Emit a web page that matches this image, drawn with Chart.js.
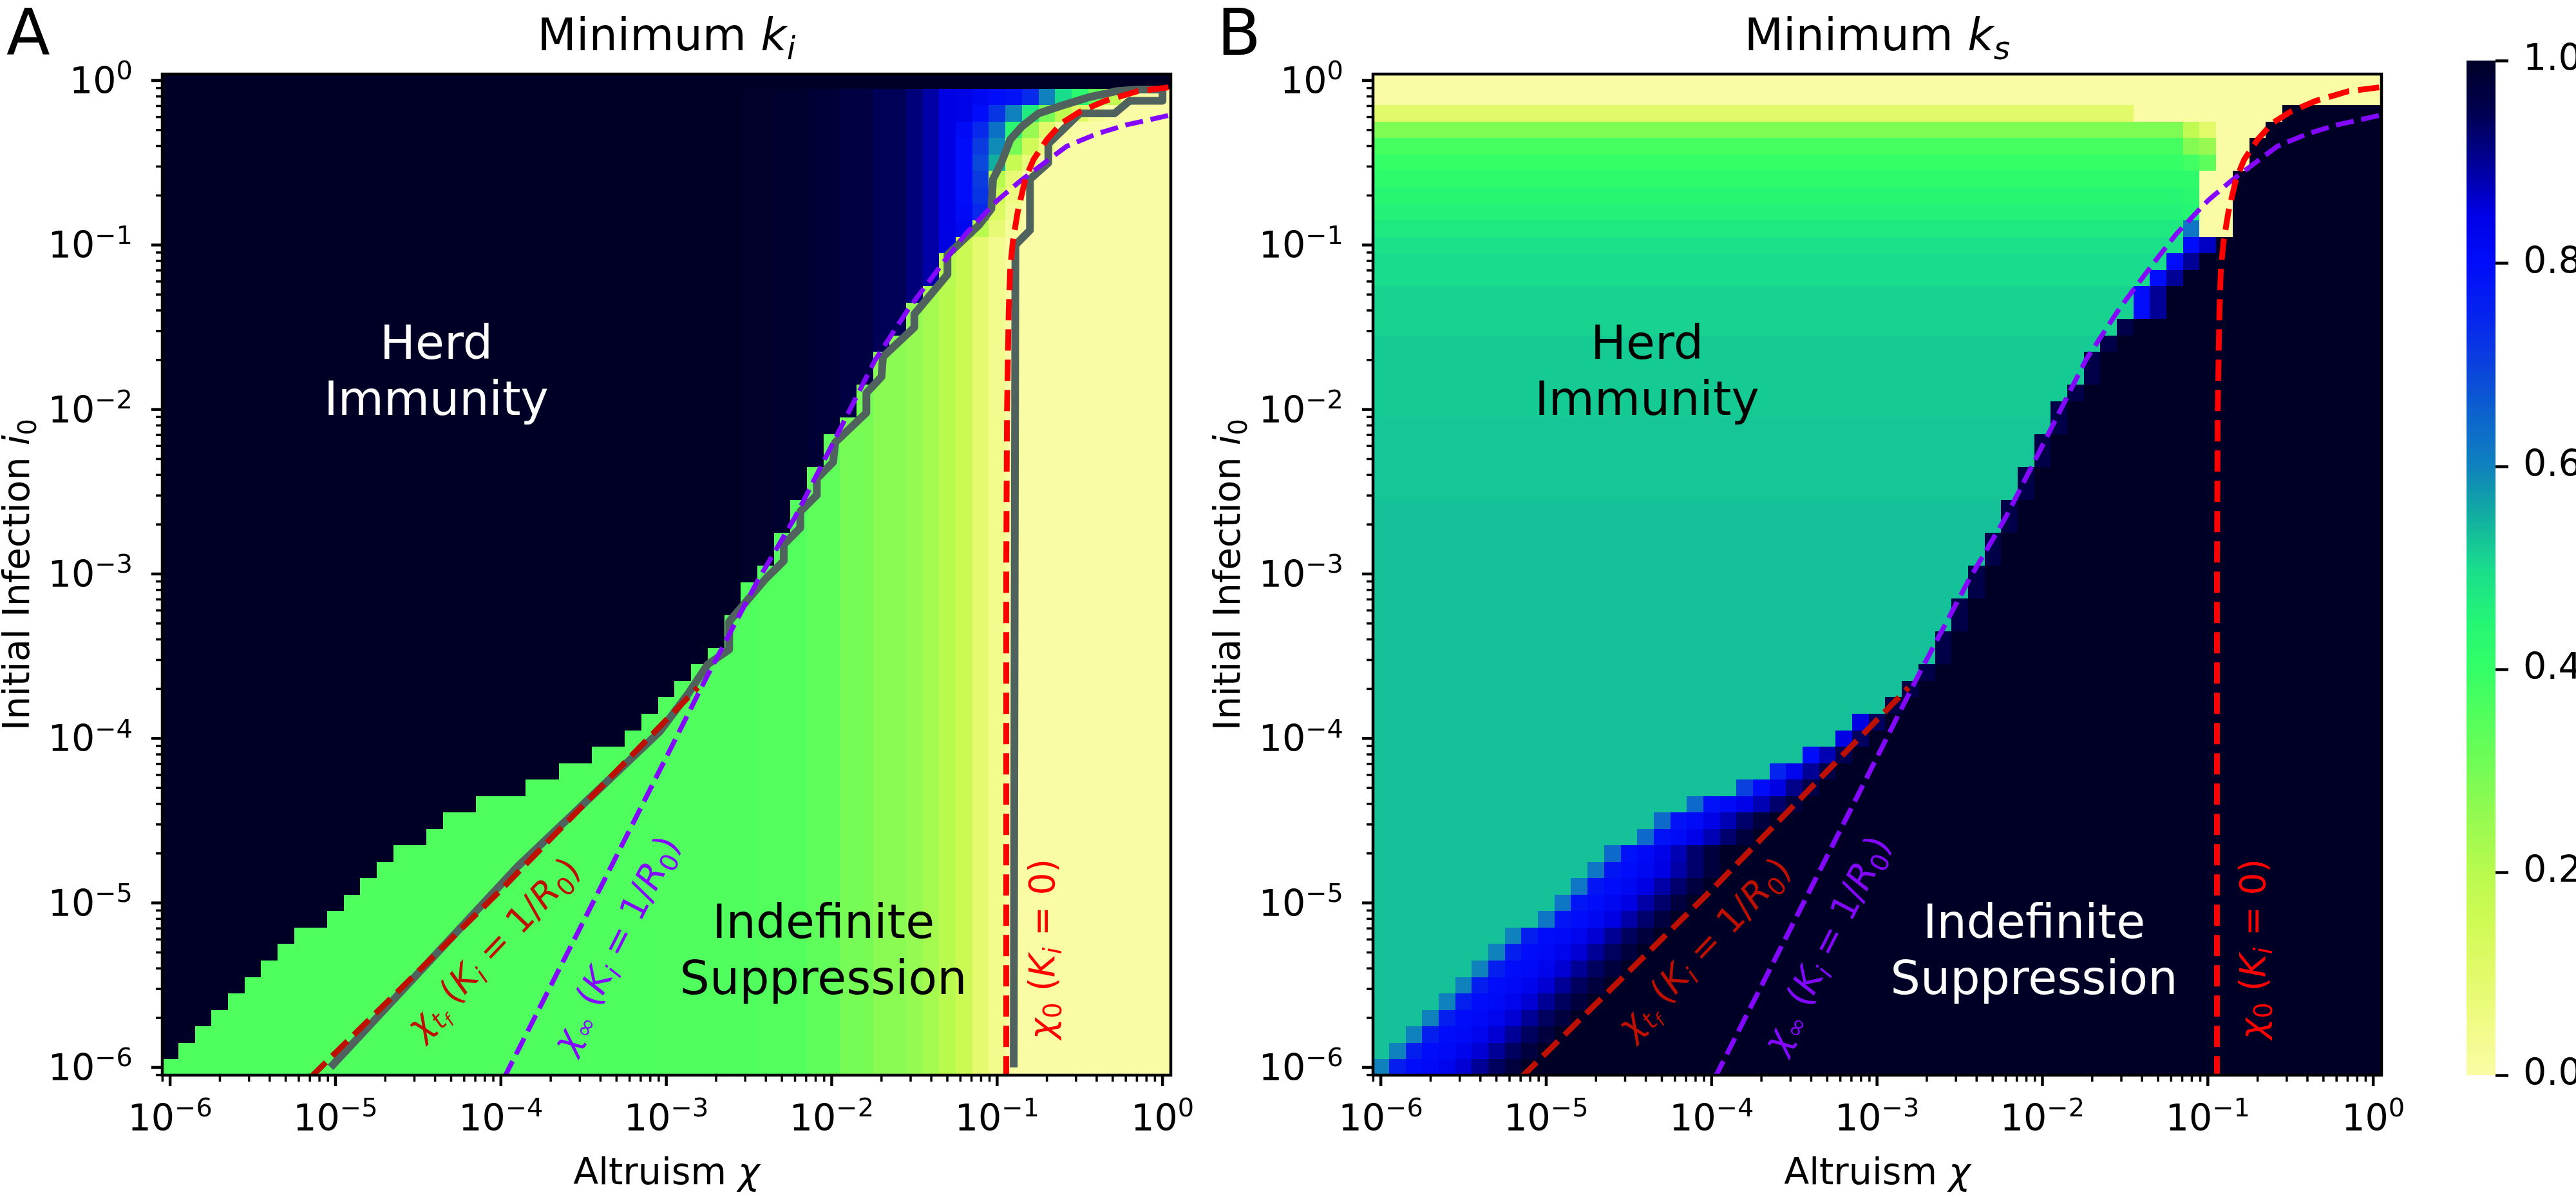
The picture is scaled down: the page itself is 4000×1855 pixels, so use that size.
<!DOCTYPE html>
<html>
<head>
<meta charset="utf-8">
<script src="https://cdn.jsdelivr.net/npm/chart.js@4.4.1/dist/chart.umd.min.js"></script>
<style>
  html, body { margin: 0; background: #fff; }
  body { position: relative; width: 4000px; height: 1855px; overflow: hidden; }
  canvas { position: absolute; top: 0; }
</style>
</head>
<body>
<canvas id="panelA" width="1950" height="1855" style="left:0px"></canvas>
<canvas id="panelB" width="1970" height="1855" style="left:1860px"></canvas>
<canvas id="cbar" width="240" height="1855" style="left:3760px"></canvas>
<script>
// ── Grid: log10 of the cell centres (same on both axes) ─────────────────────
const gridExp = [-6.0, -5.9, -5.8, -5.7, -5.6, -5.5, -5.4, -5.3, -5.2, -5.1,
                 -5.0, -4.9, -4.8, -4.7, -4.6, -4.5, -4.4, -4.3, -4.2, -4.1,
                 -4.0, -3.9, -3.8, -3.7, -3.6, -3.5, -3.4, -3.3, -3.2, -3.1,
                 -3.0, -2.9, -2.8, -2.7, -2.6, -2.5, -2.4, -2.3, -2.2, -2.1,
                 -2.0, -1.9, -1.8, -1.7, -1.6, -1.5, -1.4, -1.3, -1.2, -1.1,
                 -1.0, -0.9, -0.8, -0.7, -0.6, -0.5, -0.4, -0.3, -0.2, -0.1, 0.0];

// ── Axis ticks ────────────────────────────────────────────────────────────────
const majorExp = [-6, -5, -4, -3, -2, -1, 0];
const majorLabels = ['\u22126', '\u22125', '\u22124', '\u22123', '\u22122', '\u22121', '0'];
const minorMult = [2, 3, 4, 5, 6, 7, 8, 9];
const cbarTicks = [0, 0.2, 0.4, 0.6, 0.8, 1.0];

// ── Panel A: minimum k_i ─────────────────────────────────────────────────────
// first column of the suppression side, per row (bottom row first)
const edgeA = [0, 1, 2, 3, 4, 5, 6, 7, 8, 10,
               11, 12, 13, 14, 16, 17, 19, 22, 24, 26,
               28, 29, 30, 31, 32, 33, 34, 34, 35, 35,
               36, 37, 37, 38, 38, 39, 39, 40, 40, 41,
               42, 42, 43, 43, 44, 45, 45, 46, 47, 47,
               48, 49, 50, 50, 50, 51, 51, 51, 52, 53, 61];
// herd-immunity side, per column
const herdA = [1, 1, 1, 1, 1, 1, 1, 1, 1, 1,
               1, 1, 1, 1, 1, 1, 1, 1, 1, 1,
               1, 1, 1, 1, 1, 1, 1, 1, 1, 1,
               1, 1, 1, 1, 1, 0.995, 0.995, 0.99, 0.99, 0.98,
               0.98, 0.965, 0.965, 0.945, 0.945, 0.92, 0.89, 0.85, 0.82, 0.80,
               0.79, 0.79, 0.79, 0.79, 0.79, 0.79, 0.79, 0.79, 0.79, 0.79, 0.79];
// suppression side, per column
const suppressA = [0.36, 0.36, 0.36, 0.36, 0.36, 0.36, 0.36, 0.36, 0.36, 0.36,
                   0.36, 0.36, 0.36, 0.36, 0.36, 0.36, 0.36, 0.36, 0.36, 0.36,
                   0.36, 0.36, 0.36, 0.36, 0.36, 0.36, 0.36, 0.36, 0.36, 0.36,
                   0.358, 0.358, 0.358, 0.358, 0.358, 0.358, 0.355, 0.355, 0.355, 0.335,
                   0.335, 0.30, 0.30, 0.27, 0.27, 0.255, 0.23, 0.20, 0.16, 0.09,
                   0.04, 0, 0, 0, 0, 0, 0, 0, 0, 0, 0];
// top-right corner rows: [start column, value] runs
const topA = {
  51: [[49, 0.2], [50, 0.08], [51, 0.02], [52, 0]],
  52: [[48, 0.81], [49, 0.74], [50, 0.12], [51, 0.04], [52, 0]],
  53: [[48, 0.80], [49, 0.72], [50, 0.16], [51, 0.06], [52, 0]],
  54: [[48, 0.80], [49, 0.71], [50, 0.2], [51, 0.08], [52, 0]],
  55: [[48, 0.80], [49, 0.69], [50, 0.55], [51, 0.17], [52, 0.07], [53, 0]],
  56: [[48, 0.80], [49, 0.71], [50, 0.59], [51, 0.3], [52, 0.15], [53, 0.05], [54, 0]],
  57: [[48, 0.81], [49, 0.74], [50, 0.63], [51, 0.43], [52, 0.25], [53, 0.1], [54, 0.02], [55, 0]],
  58: [[48, 0.84], [49, 0.80], [50, 0.72], [51, 0.6], [52, 0.47], [53, 0.3], [54, 0.19], [55, 0.11], [56, 0.03], [57, 0]],
  59: [[48, 0.84], [49, 0.82], [50, 0.80], [51, 0.79], [52, 0.74], [53, 0.6], [54, 0.5], [55, 0.43], [56, 0.33], [57, 0.18], [58, 0.04], [59, 0]],
  60: [[0, 1]]
};

// ── Panel B: minimum k_s ─────────────────────────────────────────────────────
const edgeB = [0, 1, 2, 3, 4, 5, 6, 7, 8, 10,
               11, 12, 13, 14, 16, 17, 19, 22, 24, 26,
               28, 29, 31, 32, 33, 34, 34, 35, 35, 36,
               36, 37, 37, 38, 38, 39, 39, 40, 40, 41,
               41, 42, 43, 43, 44, 45, 46, 46, 47, 48,
               49, 49, 50, 50, 50, 49, 49, 49, 46, 61, 61];
// herd-immunity side, per row
const herdB = [0.53, 0.53, 0.53, 0.53, 0.53, 0.53, 0.53, 0.53, 0.53, 0.53,
               0.53, 0.53, 0.53, 0.53, 0.53, 0.53, 0.53, 0.53, 0.53, 0.53,
               0.53, 0.53, 0.53, 0.53, 0.53, 0.53, 0.53, 0.53, 0.53, 0.53,
               0.53, 0.53, 0.53, 0.53, 0.53, 0.525, 0.525, 0.525, 0.525, 0.525,
               0.52, 0.52, 0.52, 0.52, 0.52, 0.51, 0.51, 0.51, 0.50, 0.50,
               0.49, 0.475, 0.455, 0.44, 0.42, 0.40, 0.375, 0.29, 0.10, 0, 0];
// blue band just right of the herd edge
const bandProfilesB = [
  [0.6, 0.76, 0.8, 0.81, 0.83, 0.86, 0.9, 0.94, 0.97],
  [0.62, 0.78, 0.8, 0.82, 0.85, 0.89, 0.93, 0.97],
  [0.64, 0.79, 0.81, 0.84, 0.88, 0.93, 0.97],
  [0.7, 0.8, 0.85, 0.91, 0.96],
  [0.75, 0.83, 0.9, 0.96],
  [0.8, 0.88, 0.95],
  [0.85, 0.94],
  [0.96],
  [0.8, 0.9],
  [0.8, 0.87],
  []
];
const bandRowB = [0, 0, 0, 0, 0, 0, 0, 0, 0, 1,
                  1, 1, 1, 2, 2, 2, 2, 3, 4, 5,
                  6, 6, 7, 7, 7, 7, 7, 7, 7, 7,
                  7, 7, 7, 7, 7, 7, 7, 7, 7, 7,
                  7, 7, 7, 7, 7, 7, 8, 8, 8, 8,
                  9, 10, 10, 10, 10, 10, 10, 10, 10, 10, 10];
const topB = {
  51: [[0, 0.475], [49, 0.62], [50, 0], [52, 1]],
  52: [[0, 0.455], [49, 0.44], [50, 0], [52, 1]],
  53: [[0, 0.44], [49, 0.43], [50, 0], [52, 1]],
  54: [[0, 0.42], [49, 0.42], [50, 0], [52, 1]],
  55: [[0, 0.40], [49, 0.38], [50, 0.34], [51, 0], [53, 1]],
  56: [[0, 0.375], [49, 0.28], [50, 0.25], [51, 0], [53, 1]],
  57: [[0, 0.29], [49, 0.19], [50, 0.1], [51, 0], [54, 1]],
  58: [[0, 0.10], [46, 0], [55, 1]],
  59: [[0, 0]],
  60: [[0, 0]]
};

// ── Boundary curves (altruism chi, initial infection i0) ────────────────────
const greyChi = [9.33e-6, 1.26e-4, 9.12e-4, 1.35e-3, 1.78e-3, 2.40e-3, 2.40e-3, 3.98e-3, 5.13e-3, 5.13e-3,
                 6.46e-3, 6.46e-3, 8.13e-3, 8.13e-3, 1.02e-2, 1.05e-2, 1.62e-2, 1.62e-2, 2.00e-2, 2.04e-2,
                 3.16e-2, 3.16e-2, 5.01e-2, 5.01e-2, 7.76e-2, 9.23e-2, 9.44e-2, 0.106, 0.120, 0.141,
                 0.178, 0.251, 0.363, 0.525, 0.708, 1.0, 1.0, 0.631, 0.513, 0.316,
                 0.204, 0.204, 0.158, 0.158, 0.129, 0.126];
const greyI0 = [1.0e-6, 1.66e-5, 1.10e-4, 1.86e-4, 2.82e-4, 3.47e-4, 5.13e-4, 9.33e-4, 1.20e-3, 1.51e-3,
                1.91e-3, 2.40e-3, 3.02e-3, 3.80e-3, 4.79e-3, 6.31e-3, 9.55e-3, 1.26e-2, 1.58e-2, 2.09e-2,
                3.16e-2, 3.80e-2, 6.61e-2, 8.71e-2, 0.132, 0.166, 0.251, 0.316, 0.437, 0.525,
                0.631, 0.708, 0.794, 0.861, 0.881, 0.881, 0.752, 0.752, 0.631, 0.631,
                0.412, 0.316, 0.251, 0.123, 0.100, 1.0e-6];
const tfChi = [7.08e-6, 1.0e-4, 1.55e-3];
const tfI0 = [8.71e-7, 1.20e-5, 2.04e-4];
const infChi = [1.05e-4, 4.27e-4, 1.78e-3, 3.59e-3, 5.97e-3, 1.0e-2, 1.83e-2, 2.95e-2, 4.78e-2, 6.46e-2,
                0.100, 0.138, 0.182, 0.263, 0.398, 0.603, 1.12];
const infI0 = [8.71e-7, 1.41e-5, 2.43e-4, 9.20e-4, 2.19e-3, 6.03e-3, 2.0e-2, 4.17e-2, 7.94e-2, 0.117,
               0.186, 0.245, 0.302, 0.398, 0.473, 0.537, 0.617];
const zeroChi = [0.1135, 0.1135, 0.1148, 0.1175, 0.120, 0.1245, 0.133, 0.148, 0.166, 0.200,
                 0.245, 0.316, 0.447, 0.708, 1.12];
const zeroI0 = [8.71e-7, 1.0e-3, 1.0e-2, 3.98e-2, 7.24e-2, 0.105, 0.158, 0.251, 0.331, 0.437,
                0.550, 0.646, 0.750, 0.861, 0.912];

// ── Annotation anchors (chi, i0) ─────────────────────────────────────────────
const noteChi = [4.07e-5, 8.9e-3, 8.91e-5, 4.9e-4, 0.186];
const noteI0 = [1.74e-2, 5.25e-6, 5.37e-6, 5.62e-6, 5.25e-6];

// ── Style ─────────────────────────────────────────────────────────────────────
const FONT = '"DejaVu Sans", sans-serif';
const X_MIN = 8.97e-7, X_MAX = 1.122, Y_MIN = 8.97e-7, Y_MAX = 1.094;
const CELL_HALF = 0.05;
const cmapVals = [0, 0.05, 0.1, 0.15, 0.2, 0.25, 0.3, 0.35, 0.4, 0.45, 0.5,
                  0.55, 0.6, 0.65, 0.7, 0.75, 0.8, 0.85, 0.9, 0.95, 1];
const cmapRGB = [[250, 252, 165], [240, 251, 135], [226, 250, 105], [208, 250, 85], [185, 250, 78],
                 [152, 250, 80], [118, 252, 85], [85, 255, 92], [52, 255, 102], [35, 245, 118],
                 [25, 220, 140], [18, 175, 160], [15, 130, 190], [12, 100, 205], [10, 65, 222],
                 [5, 35, 238], [0, 12, 250], [0, 0, 228], [0, 0, 150], [0, 0, 80], [0, 0, 38]];

function cmap(v) {
    v = Math.max(0, Math.min(1, v));
    let k = 0;
    while (k < cmapVals.length - 2 && v > cmapVals[k + 1]) k++;
    const t = (v - cmapVals[k]) / (cmapVals[k + 1] - cmapVals[k]);
    const a = cmapRGB[k], b = cmapRGB[k + 1];
    return `rgb(${Math.round(a[0] + (b[0] - a[0]) * t)},${Math.round(a[1] + (b[1] - a[1]) * t)},${Math.round(a[2] + (b[2] - a[2]) * t)})`;
}

function applyRuns(row, runs) {
    if (!runs) return;
    runs.forEach(([start, v], k) => {
        const end = k + 1 < runs.length ? runs[k + 1][0] : row.length;
        for (let c = start; c < end; c++) row[c] = v;
    });
}

function buildGridA() {
    return gridExp.map((_, r) => {
        const row = gridExp.map((__, c) => c < edgeA[r] ? herdA[c] : suppressA[c]);
        applyRuns(row, topA[r]);
        return row;
    });
}

function buildGridB() {
    return gridExp.map((_, r) => {
        const band = bandProfilesB[bandRowB[r]];
        const row = gridExp.map((__, c) => {
            if (c < edgeB[r]) return herdB[r];
            const k = c - edgeB[r];
            return k < band.length ? band[k] : 1;
        });
        applyRuns(row, topB[r]);
        return row;
    });
}

// ── Rich text (mathtext-like runs) ───────────────────────────────────────────
// [scale, baseline shift in em (down +), font style]
const RUN = {
    n: [1, 0, ''], i: [1, 0, 'italic '],
    sub: [0.7, 0.2, 'italic '], subn: [0.7, 0.2, ''],
    subsub: [0.5, 0.34, 'italic '], sup: [0.7, -0.38, '']
};
function runFont(kind, size) { return `${RUN[kind][2]}${size * RUN[kind][0]}px ${FONT}`; }
function runsWidth(ctx, runs, size) {
    let w = 0;
    runs.forEach(([t, k]) => { ctx.font = runFont(k, size); w += ctx.measureText(t).width; });
    return w;
}
function rich(ctx, runs, size, color, px, py, opt = {}) {
    ctx.save();
    ctx.translate(px, py);
    if (opt.rot) ctx.rotate(opt.rot * Math.PI / 180);
    ctx.fillStyle = color;
    ctx.textAlign = 'left';
    ctx.textBaseline = 'alphabetic';
    const w = runsWidth(ctx, runs, size);
    let x = opt.align === 'right' ? -w : opt.align === 'left' ? 0 : -w / 2;
    const y = opt.dy || 0;
    runs.forEach(([t, k]) => {
        ctx.font = runFont(k, size);
        ctx.fillText(t, x, y + RUN[k][1] * size);
        x += ctx.measureText(t).width;
    });
    ctx.restore();
}

// ── Plugins ──────────────────────────────────────────────────────────────────
function heatmapPlugin(grid) {
    return {
        id: 'heatmap',
        beforeDatasetsDraw(chart) {
            const { ctx, chartArea: a, scales: { x, y } } = chart;
            ctx.save();
            ctx.beginPath();
            ctx.rect(a.left, a.top, a.right - a.left, a.bottom - a.top);
            ctx.clip();
            grid.forEach((row, r) => row.forEach((v, c) => {
                const xl = Math.round(x.getPixelForValue(Math.pow(10, gridExp[c] - CELL_HALF)));
                const xr = Math.round(x.getPixelForValue(Math.pow(10, gridExp[c] + CELL_HALF)));
                const yb = Math.round(y.getPixelForValue(Math.pow(10, gridExp[r] - CELL_HALF)));
                const yt = Math.round(y.getPixelForValue(Math.pow(10, gridExp[r] + CELL_HALF)));
                ctx.fillStyle = cmap(v);
                ctx.fillRect(xl, yt, xr - xl, yb - yt);
            }));
            ctx.restore();
        }
    };
}

function decorPlugin(cfg) {
    return {
        id: 'decor',
        afterDatasetsDraw(chart) {
            const { ctx, chartArea: a, scales: { x, y } } = chart;
            ctx.save();
            ctx.beginPath();
            ctx.rect(a.left, a.top, a.right - a.left, a.bottom - a.top);
            ctx.clip();
            cfg.notes.forEach((n, k) => {
                const px = x.getPixelForValue(noteChi[k]), py = y.getPixelForValue(noteI0[k]);
                n.lines.forEach((runs, j) => {
                    const off = (j - (n.lines.length - 1) / 2) * n.size * 1.2;
                    rich(ctx, runs, n.size, n.color, px, py, { rot: n.rot, dy: off + 0.36 * n.size });
                });
            });
            ctx.restore();
        },
        afterDraw(chart) {
            const { ctx, chartArea: a, scales: { x, y } } = chart;
            ctx.save();
            ctx.strokeStyle = '#000';
            ctx.lineCap = 'butt';
            const tickX = (v, len, lw) => {
                const px = x.getPixelForValue(v);
                ctx.lineWidth = lw; ctx.beginPath(); ctx.moveTo(px, a.bottom); ctx.lineTo(px, a.bottom + len); ctx.stroke();
            };
            const tickY = (v, len, lw) => {
                const py = y.getPixelForValue(v);
                ctx.lineWidth = lw; ctx.beginPath(); ctx.moveTo(a.left, py); ctx.lineTo(a.left - len, py); ctx.stroke();
            };
            [-7].concat(majorExp).forEach(e => minorMult.forEach(m => {
                const v = m * Math.pow(10, e);
                if (v >= X_MIN * 0.999 && v <= X_MAX) tickX(v, 10, 3.5);
                if (v >= Y_MIN * 0.999 && v <= Y_MAX) tickY(v, 10, 3.5);
            }));
            majorExp.forEach((e, k) => {
                const v = Math.pow(10, e);
                tickX(v, 17, 4.5);
                tickY(v, 17, 4.5);
                const runs = [['10', 'n'], [majorLabels[k], 'sup']];
                rich(ctx, runs, 57, '#000', x.getPixelForValue(v), a.bottom + 86, {});
                rich(ctx, runs, 57, '#000', a.left - 46, y.getPixelForValue(v) + 20, { align: 'right' });
            });
            ctx.lineWidth = 4.5;
            ctx.strokeRect(a.left, a.top, a.right - a.left, a.bottom - a.top);
            const cx = (a.left + a.right) / 2, cy = (a.top + a.bottom) / 2;
            rich(ctx, cfg.title, 70, '#000', cx, 78, {});
            rich(ctx, [['Altruism ', 'n'], ['\u03c7', 'i']], 57, '#000', cx, 1838, {});
            rich(ctx, [['Initial Infection ', 'n'], ['i', 'i'], ['0', 'subn']], 57, '#000', a.left - 207, cy, { rot: -90 });
            rich(ctx, [[cfg.letter, 'n']], 99, '#000', a.left - 242, 85, { align: 'left' });
            ctx.restore();
        }
    };
}

function colorbarPlugin() {
    return {
        id: 'colorbar',
        beforeDatasetsDraw(chart) {
            const { ctx, chartArea: a, scales: { y } } = chart;
            const steps = 400;
            for (let k = 0; k < steps; k++) {
                const y0 = Math.round(y.getPixelForValue(k / steps));
                const y1 = Math.round(y.getPixelForValue((k + 1) / steps));
                ctx.fillStyle = cmap((k + 0.5) / steps);
                ctx.fillRect(a.left, y1, a.right - a.left, y0 - y1);
            }
        }
    };
}

// ── Build charts ─────────────────────────────────────────────────────────────
const tfLabel = [['\u03c7', 'i'], ['t', 'sub'], ['f', 'subsub'], [' (', 'n'], ['K', 'i'], ['i', 'sub'],
                 [' = 1/', 'n'], ['R', 'i'], ['0', 'subn'], [')', 'n']];
const infLabel = [['\u03c7', 'i'], ['\u221e', 'subn'], [' (', 'n'], ['K', 'i'], ['i', 'sub'],
                  [' = 1/', 'n'], ['R', 'i'], ['0', 'subn'], [')', 'n']];
const zeroLabel = [['\u03c7', 'i'], ['0', 'subn'], [' (', 'n'], ['K', 'i'], ['i', 'sub'], [' = 0)', 'n']];

function curve(chi, i0, color, width, dash, order) {
    return {
        data: chi.map((v, k) => ({ x: v, y: i0[k] })),
        showLine: true, pointRadius: 0, borderColor: color, borderWidth: width,
        borderDash: dash, borderCapStyle: 'butt', borderJoinStyle: dash.length ? 'miter' : 'round',
        tension: 0, fill: false, clip: 0, order: order
    };
}

function panel(canvasId, padLeft, grid, cfg) {
    return new Chart(document.getElementById(canvasId), {
        type: 'scatter',
        data: { datasets: cfg.curves },
        options: {
            responsive: false, animation: false, devicePixelRatio: 1, events: [],
            layout: { padding: { left: padLeft, right: 132, top: 115, bottom: 186 } },
            plugins: { legend: { display: false }, tooltip: { enabled: false } },
            scales: {
                x: { type: 'logarithmic', min: X_MIN, max: X_MAX, bounds: 'data', display: false },
                y: { type: 'logarithmic', min: Y_MIN, max: Y_MAX, bounds: 'data', display: false }
            }
        },
        plugins: [heatmapPlugin(grid), decorPlugin(cfg)]
    });
}

const RED = '#ff0000', DARKRED = '#bd1000', PURPLE = '#8408ff', GREY = '#4f625e';

panel('panelA', 252, buildGridA(), {
    letter: 'A',
    title: [['Minimum ', 'n'], ['k', 'i'], ['i', 'sub']],
    curves: [
        curve(zeroChi, zeroI0, RED, 9, [33, 14], 1),
        curve(infChi, infI0, PURPLE, 7.5, [28, 12], 2),
        curve(tfChi, tfI0, DARKRED, 9, [33, 14], 3),
        curve(greyChi, greyI0, GREY, 12, [], 4)
    ],
    notes: [
        { lines: [[['Herd', 'n']], [['Immunity', 'n']]], size: 73, color: '#fff', rot: 0 },
        { lines: [[['Indefinite', 'n']], [['Suppression', 'n']]], size: 73, color: '#000', rot: 0 },
        { lines: [tfLabel], size: 55, color: DARKRED, rot: -46.5 },
        { lines: [infLabel], size: 55, color: PURPLE, rot: -63 },
        { lines: [zeroLabel], size: 55, color: RED, rot: -90 }
    ]
});

panel('panelB', 272, buildGridB(), {
    letter: 'B',
    title: [['Minimum ', 'n'], ['k', 'i'], ['s', 'sub']],
    curves: [
        curve(zeroChi, zeroI0, RED, 9, [33, 14], 1),
        curve(infChi, infI0, PURPLE, 7.5, [28, 12], 2),
        curve(tfChi, tfI0, DARKRED, 9, [33, 14], 3)
    ],
    notes: [
        { lines: [[['Herd', 'n']], [['Immunity', 'n']]], size: 73, color: '#000', rot: 0 },
        { lines: [[['Indefinite', 'n']], [['Suppression', 'n']]], size: 73, color: '#fff', rot: 0 },
        { lines: [tfLabel], size: 55, color: DARKRED, rot: -46.5 },
        { lines: [infLabel], size: 55, color: PURPLE, rot: -63 },
        { lines: [zeroLabel], size: 55, color: RED, rot: -90 }
    ]
});

new Chart(document.getElementById('cbar'), {
    type: 'scatter',
    data: { datasets: [] },
    options: {
        responsive: false, animation: false, devicePixelRatio: 1, events: [],
        layout: { padding: { left: 70, right: 0, top: 94, bottom: 186 } },
        plugins: { legend: { display: false }, tooltip: { enabled: false } },
        scales: {
            x: { display: false, min: 0, max: 1 },
            y: {
                position: 'right', min: 0, max: 1,
                afterBuildTicks: s => { s.ticks = cbarTicks.map(v => ({ value: v })); },
                afterFit: s => { s.width = 125; },
                ticks: { callback: v => v.toFixed(1), color: '#000', padding: 23, font: { family: FONT, size: 57 } },
                grid: { drawOnChartArea: false, drawTicks: true, tickLength: 20, tickWidth: 4.5, tickColor: '#000' },
                border: { display: false }
            }
        }
    },
    plugins: [colorbarPlugin()]
});
</script>
</body>
</html>
